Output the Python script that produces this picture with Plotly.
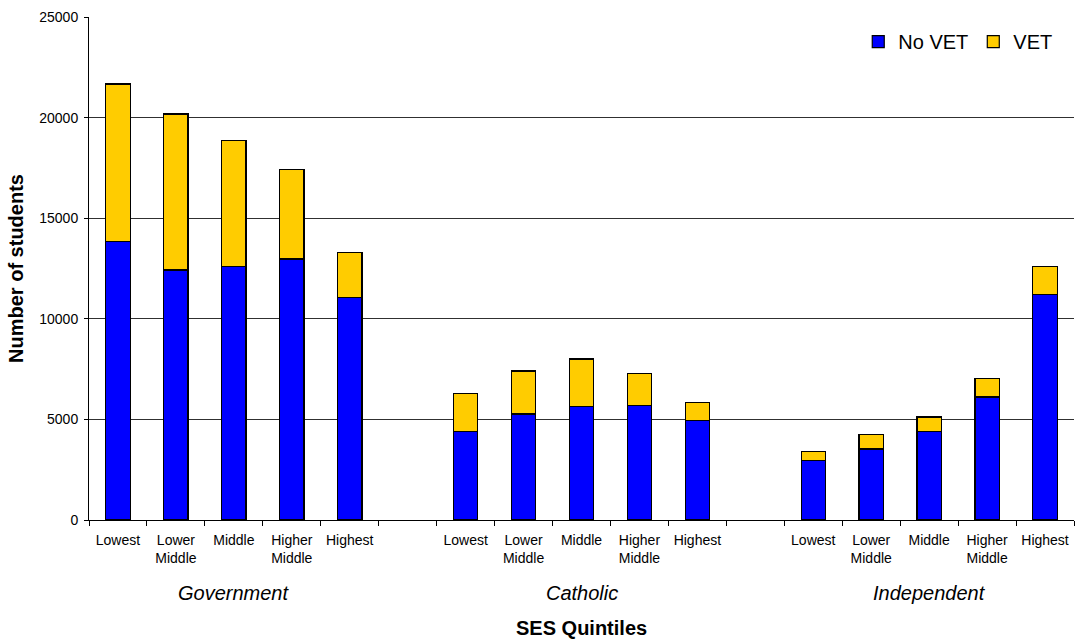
import plotly.graph_objects as go

groups = ["Government", "Catholic", "Independent"]
quintiles = ["Lowest", "Lower<br>Middle", "Middle", "Higher<br>Middle", "Highest"]

no_vet_gov = [13830, 12430, 12590, 12970, 11050]
vet_gov = [7840, 7750, 6280, 4440, 2240]
no_vet_cath = [4410, 5270, 5650, 5680, 4940]
vet_cath = [1890, 2140, 2350, 1610, 920]
no_vet_ind = [2970, 3530, 4390, 6110, 11200]
vet_ind = [430, 710, 730, 910, 1390]

no_vet_all = [no_vet_gov, no_vet_cath, no_vet_ind]
vet_all = [vet_gov, vet_cath, vet_ind]

FONT = "Liberation Sans, Arial, sans-serif"

# Build slot positions: 5 quintiles per group with one empty slot between groups
xs, labels, nv, v, group_centers = [], [], [], [], []
pos = 0
for gi, g in enumerate(groups):
    start = pos
    for qi, q in enumerate(quintiles):
        xs.append(pos)
        labels.append(q)
        nv.append(no_vet_all[gi][qi])
        v.append(vet_all[gi][qi])
        pos += 1
    group_centers.append((start + pos - 1) / 2)
    if gi < len(groups) - 1:
        xs.append(pos)
        labels.append("")
        nv.append(None)
        v.append(None)
        pos += 1

n_slots = pos
boundaries = [i - 0.5 for i in range(n_slots + 1)]

fig = go.Figure()
fig.add_trace(go.Bar(x=xs, y=nv, name="No VET",
                     marker=dict(color="#0000FF", line=dict(color="#000000", width=1.2)), width=0.42))
fig.add_trace(go.Bar(x=xs, y=v, name="VET",
                     marker=dict(color="#FFCC00", line=dict(color="#000000", width=1.2)), width=0.42))

for gname, c in zip(groups, group_centers):
    fig.add_annotation(x=c, xref="x", y=-0.145, yref="paper", text="<i>" + gname + "</i>", showarrow=False,
                       font=dict(family=FONT, size=20, color="#000"), yanchor="middle")
fig.add_annotation(x=0.5, xref="paper", y=-0.215, yref="paper", text="<b>SES Quintiles</b>", showarrow=False,
                   font=dict(family=FONT, size=20, color="#000"), yanchor="middle")

fig.update_layout(
    barmode="stack",
    width=1086, height=642,
    margin=dict(l=89, r=12, t=17, b=122, autoexpand=False),
    plot_bgcolor="#FFFFFF", paper_bgcolor="#FFFFFF",
    font=dict(family=FONT, size=14, color="#000"),
    showlegend=True,
    legend=dict(orientation="h", x=0.983, y=0.99, xanchor="right", yanchor="top",
                font=dict(family=FONT, size=20, color="#000"), itemwidth=30, bgcolor="rgba(0,0,0,0)",
                traceorder="normal"),
)
fig.update_xaxes(
    range=[-0.5, n_slots - 0.5], automargin=False,
    tickmode="array", tickvals=xs, ticktext=labels, ticks="",
    tickfont=dict(family=FONT, size=14, color="#000"), ticklabelstandoff=7,
    showgrid=False, zeroline=False,
    showline=True, linecolor="#000", linewidth=1,
    minor=dict(tickmode="array", tickvals=boundaries, ticks="outside", ticklen=5,
               tickcolor="#000", showgrid=False),
)
fig.update_yaxes(
    range=[0, 25000], tickvals=[0, 5000, 10000, 15000, 20000, 25000], tickformat="d",
    automargin=False,
    ticks="outside", ticklen=4, tickcolor="#000",
    tickfont=dict(family=FONT, size=14, color="#000"), ticklabelstandoff=3,
    showgrid=True, gridcolor="#303030", gridwidth=1,
    zeroline=False, showline=True, linecolor="#000", linewidth=1,
    title=dict(text="<b>Number of students</b>", font=dict(family=FONT, size=20, color="#000"), standoff=10),
)

fig.write_html("out.html")
